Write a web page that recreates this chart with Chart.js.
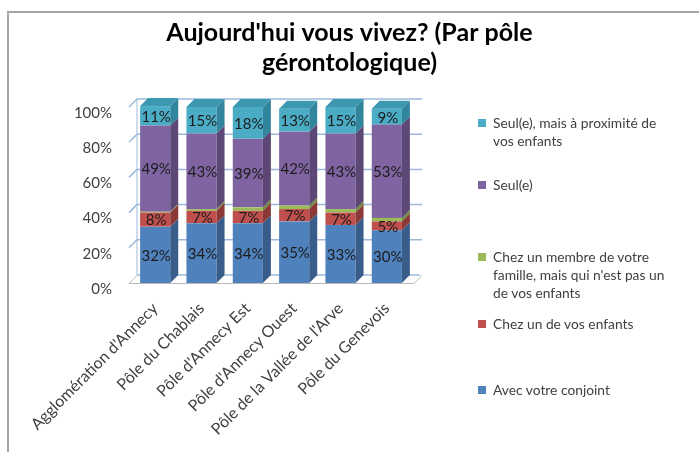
<!DOCTYPE html>
<html>
<head>
<meta charset="utf-8">
<script src="https://cdn.jsdelivr.net/npm/chart.js@4.4.0/dist/chart.umd.min.js"></script>
<style>
  body { margin: 0; background: #fff; font-family: Lato, sans-serif; }
  #wrap { position: relative; width: 699px; height: 452px; overflow: hidden; }
  #frame { position: absolute; left: 7px; top: 11px; width: 720px; height: 470px;
           border-top: 2px solid #a6a6a6; border-left: 2px solid #a6a6a6; }
  canvas { position: absolute; left: 0; top: 0; }
  .item { position: absolute; left: 478px; padding-left: 15px; font-size: 13.8px;
          line-height: 18px; color: #404040; white-space: nowrap; }
  .sw { position: absolute; left: 0; top: 5px; width: 8px; height: 8px; }
</style>
</head>
<body>
<div id="wrap">
  <div id="frame"></div>
  <canvas id="chart" width="699" height="452"></canvas>
  <div id="legend"></div>
</div>
<script>
const categories = [
  "Agglomération d'Annecy",
  'Pôle du Chablais',
  "Pôle d'Annecy Est",
  "Pôle d'Annecy Ouest",
  "Pôle de la Vallée de l'Arve",
  'Pôle du Genevois'
];

// values in %, bottom to top
const conjoint = [32, 34, 34, 35, 33, 30];
const enfant = [8, 7, 7, 7, 7, 5];
const famille = [0.5, 1, 2, 2, 2, 2];
const seul = [49, 43, 39, 42, 43, 53];
const seulProche = [11, 15, 18, 13, 15, 9];

const yTicks = [0, 20, 40, 60, 80, 100];

const series = [
  { label: 'Avec votre conjoint', data: conjoint, color: '#4f81bd', side: '#385d8a', top: '#3f6a9e', legendTop: 381, showLabel: true },
  { label: 'Chez un de vos enfants', data: enfant, color: '#c0504d', side: '#8c3836', top: '#a0423f', legendTop: 315, showLabel: true },
  { label: "Chez un membre de votre<br>famille, mais qui n'est pas un<br>de vos enfants", data: famille, color: '#9bbb59', side: '#71893f', top: '#86a34a', legendTop: 248, showLabel: false },
  { label: 'Seul(e)', data: seul, color: '#8064a2', side: '#5c4776', top: '#6d5590', legendTop: 176, showLabel: true },
  { label: 'Seul(e), mais à proximité de<br>vos enfants', data: seulProche, color: '#4bacc6', side: '#31859c', top: '#3b98b0', legendTop: 114, showLabel: true }
];

const DX = 8, DY = 8;

// legend as html text
const legendEl = document.getElementById('legend');
series.forEach(s => {
  const d = document.createElement('div');
  d.className = 'item';
  d.style.top = s.legendTop + 'px';
  d.innerHTML = '<span class="sw" style="background:' + s.color + '"></span>' + s.label;
  legendEl.appendChild(d);
});

// back wall, floor and 3D faces of the bars
const threeD = {
  id: 'threeD',
  beforeDatasetsDraw(chart) {
    const { ctx, chartArea: a, scales: { y } } = chart;
    const fx = a.left - 3;
    const bx = fx + DX;
    const rx = a.right + 12;
    ctx.save();
    ctx.lineWidth = 1.5;
    ctx.strokeStyle = '#9cb9dd';
    yTicks.forEach(v => {
      const py = y.getPixelForValue(v);
      ctx.beginPath();
      if (v > 0) {
        ctx.moveTo(fx, py);
        ctx.lineTo(bx, py - DY);
        ctx.lineTo(rx, py - DY);
      } else {
        ctx.moveTo(bx, py - DY);
        ctx.lineTo(rx - 2, py - DY);
      }
      ctx.stroke();
    });
    // left wall
    ctx.lineWidth = 1;
    ctx.beginPath();
    ctx.moveTo(bx, y.getPixelForValue(100) - DY);
    ctx.lineTo(bx, y.getPixelForValue(0) - DY);
    ctx.stroke();
    // floor
    const p0 = y.getPixelForValue(0);
    ctx.strokeStyle = '#b8b8b8';
    ctx.beginPath();
    ctx.moveTo(fx, p0 + 0.5);
    ctx.lineTo(rx - DX, p0 + 0.5);
    ctx.lineTo(rx, p0 - DY + 0.5);
    ctx.moveTo(fx, p0 + 0.5);
    ctx.lineTo(bx, p0 - DY + 0.5);
    ctx.stroke();
    ctx.restore();
  },
  afterDatasetsDraw(chart) {
    const { ctx } = chart;
    const n = chart.data.datasets.length;
    ctx.save();
    for (let d = 0; d < n; d++) {
      const meta = chart.getDatasetMeta(d);
      meta.data.forEach(bar => {
        const r = bar.x + bar.width / 2;
        const l = bar.x - bar.width / 2;
        ctx.fillStyle = series[d].side;
        ctx.beginPath();
        ctx.moveTo(r, bar.base);
        ctx.lineTo(r, bar.y);
        ctx.lineTo(r + DX, bar.y - DY);
        ctx.lineTo(r + DX, bar.base - DY);
        ctx.closePath();
        ctx.fill();
        if (d === n - 1) {
          ctx.fillStyle = series[d].top;
          ctx.beginPath();
          ctx.moveTo(l, bar.y);
          ctx.lineTo(l + DX, bar.y - DY);
          ctx.lineTo(r + DX, bar.y - DY);
          ctx.lineTo(r, bar.y);
          ctx.closePath();
          ctx.fill();
        }
      });
    }
    // value labels on the front faces
    ctx.font = '15px Lato, sans-serif';
    ctx.fillStyle = '#1c1c1c';
    ctx.textAlign = 'center';
    ctx.textBaseline = 'middle';
    for (let d = 0; d < n; d++) {
      if (!series[d].showLabel) continue;
      chart.getDatasetMeta(d).data.forEach((bar, i) => {
        ctx.fillText(Math.round(series[d].data[i]) + '%', bar.x + 1, (bar.y + bar.base) / 2 + 1);
      });
    }
    ctx.restore();
  }
};

new Chart(document.getElementById('chart'), {
  type: 'bar',
  data: {
    labels: categories,
    datasets: series.map(s => ({
      label: s.label,
      data: s.data,
      backgroundColor: s.color,
      borderWidth: 0,
      barPercentage: 0.65,
      categoryPercentage: 1,
      clip: false
    }))
  },
  options: {
    responsive: false,
    animation: false,
    devicePixelRatio: 1,
    layout: { padding: 0 },
    plugins: {
      legend: { display: false },
      tooltip: { enabled: false },
      title: {
        display: true,
        text: ["Aujourd'hui vous vivez? (Par pôle", 'gérontologique)'],
        color: '#000',
        font: { family: 'Lato, sans-serif', size: 25, weight: 'bold', lineHeight: 1.2 },
        padding: { top: 18, bottom: 29 }
      }
    },
    scales: {
      x: {
        stacked: true,
        grid: { display: false, drawTicks: false },
        border: { display: false },
        ticks: {
          minRotation: 45,
          maxRotation: 45,
          padding: 16,
          color: '#404040',
          font: { family: 'Lato, sans-serif', size: 16 }
        },
        afterFit(scale) { scale.height = 169; }
      },
      y: {
        stacked: true,
        min: 0,
        max: 100,
        grid: { display: false, drawTicks: false },
        border: { display: false },
        ticks: {
          stepSize: 20,
          padding: 20,
          labelOffset: 6,
          color: '#404040',
          font: { family: 'Lato, sans-serif', size: 15 },
          callback: v => v + '%'
        },
        afterFit(scale) { scale.width = 132; }
      },
      // empty right axis reserving room for the html legend
      yRight: {
        position: 'right',
        display: true,
        grid: { display: false, drawTicks: false },
        border: { display: false },
        ticks: { display: false },
        afterFit(scale) { scale.width = 289; }
      }
    }
  },
  plugins: [threeD]
});
</script>
</body>
</html>
